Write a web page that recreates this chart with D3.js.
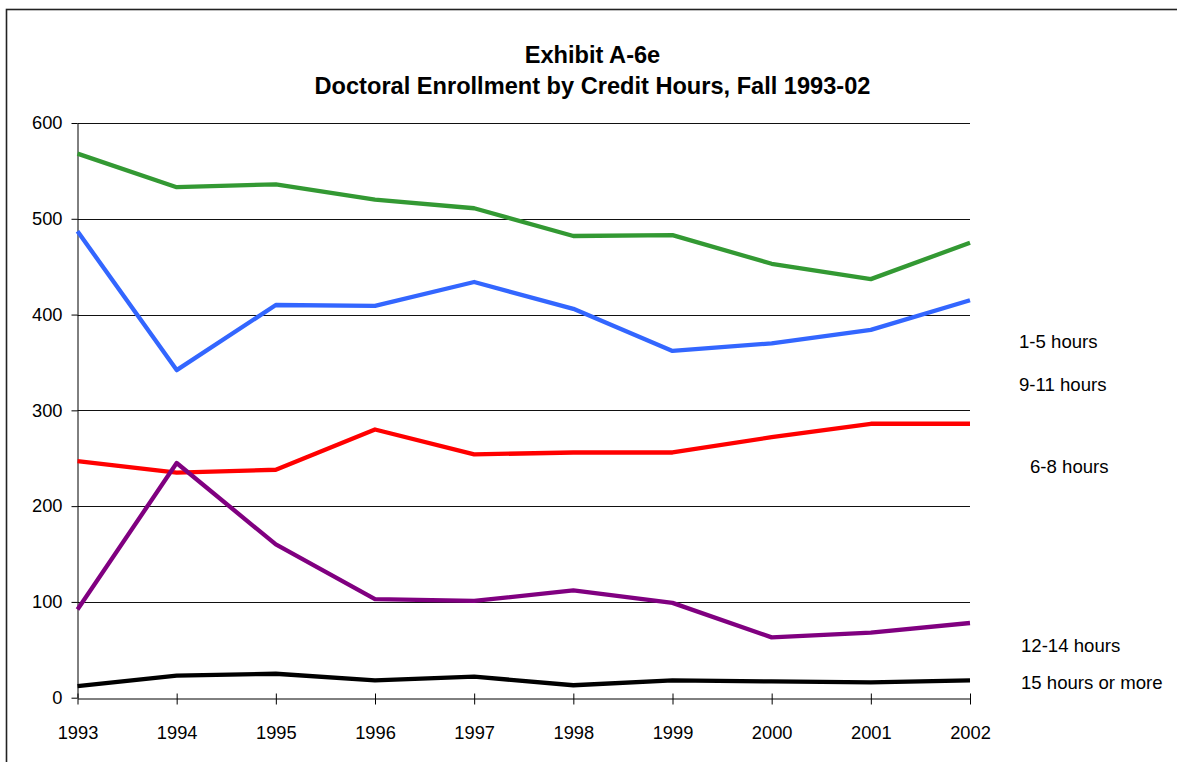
<!DOCTYPE html>
<html>
<head>
<meta charset="utf-8">
<script src="https://cdn.jsdelivr.net/npm/d3@7"></script>
<style>
    body { margin: 0; background: #ffffff; }
    text { font-family: "Liberation Sans", Arial, sans-serif; fill: #000000; }
</style>
</head>
<body>
<svg id="chart"></svg>
<script>
const years = [1993, 1994, 1995, 1996, 1997, 1998, 1999, 2000, 2001, 2002];
const y_ticks = [0, 100, 200, 300, 400, 500, 600];

const series_names = ["1-5 hours", "9-11 hours", "6-8 hours", "12-14 hours", "15 hours or more"];
const hours_1_5   = [568, 533, 536, 520, 511, 482, 483, 453, 437, 475];
const hours_9_11  = [487, 342, 410, 409, 434, 406, 362, 370, 384, 415];
const hours_6_8   = [247, 235, 238, 280, 254, 256, 256, 272, 286, 286];
const hours_12_14 = [92, 245, 160, 103, 101, 112, 99, 63, 68, 78];
const hours_15_up = [12, 23, 25, 18, 22, 13, 18, 17, 16, 18];

const series_values = [hours_1_5, hours_9_11, hours_6_8, hours_12_14, hours_15_up];
const series_colors = ["#339933", "#3366ff", "#ff0000", "#800080", "#000000"];

// where the labels sit on the right, they are not tied to the line ends
const label_x = [1019, 1019, 1030, 1021, 1021];
const label_y = [348, 391, 473, 652, 689];

function create_chart() {
    let width = 1177;
    let height = 762;

    let svg = d3.select("#chart")
        .attr("width", width)
        .attr("height", height);

    // frame, only top and left edges are visible
    svg.append("rect")
        .attr("x", 6.5)
        .attr("y", 9.5)
        .attr("width", width + 20)
        .attr("height", height + 20)
        .attr("fill", "none")
        .attr("stroke", "#222222")
        .attr("stroke-width", 1.6);

    let x = d3.scaleLinear()
        .domain([1993, 2002])
        .range([77.5, 970]);

    let y = d3.scaleLinear()
        .domain([0, 600])
        .range([697.7, 123]);

    // title
    let title = svg.append("text")
        .attr("text-anchor", "middle")
        .style("font-size", "23.6px")
        .style("font-weight", "bold");
    title.append("tspan").attr("x", 592.5).attr("y", 63).text("Exhibit A-6e");
    title.append("tspan").attr("x", 592.5).attr("y", 94).text("Doctoral Enrollment by Credit Hours, Fall 1993-02");

    // gridlines
    svg.append("g")
        .selectAll("line")
        .data(y_ticks.filter(function (d) { return d > 0; }))
        .enter().append("line")
        .attr("x1", x(1993))
        .attr("x2", x(2002))
        .attr("y1", function (d) { return Math.round(y(d)) + 0.5; })
        .attr("y2", function (d) { return Math.round(y(d)) + 0.5; })
        .attr("stroke", "#111111")
        .attr("stroke-width", 1);

    // y axis
    let y_axis = svg.append("g")
        .attr("transform", "translate(" + x(1993) + ",0)")
        .call(d3.axisLeft(y).tickValues(y_ticks).tickSize(6).tickPadding(9).tickSizeOuter(0));

    y_axis.select(".domain").attr("stroke", "#000000");
    y_axis.selectAll("text").style("font-size", "18.3px").attr("dy", "0.32em");

    // x axis, ticks cross the axis line
    let x_axis = svg.append("g")
        .attr("transform", "translate(0," + (Math.round(y(0)) + 0.5) + ")")
        .call(d3.axisBottom(x).tickValues(years).tickFormat(d3.format("d")).tickSize(6).tickPadding(22).tickSizeOuter(0));

    x_axis.select(".domain").attr("stroke", "#000000");
    x_axis.selectAll(".tick line").attr("y1", -5);
    x_axis.selectAll("text").style("font-size", "18.3px");

    // series lines
    let line = d3.line()
        .x(function (d, i) { return x(years[i]); })
        .y(function (d) { return y(d); });

    svg.append("g")
        .selectAll("path")
        .data(series_values)
        .enter().append("path")
        .attr("d", line)
        .attr("fill", "none")
        .attr("stroke", function (d, i) { return series_colors[i]; })
        .attr("stroke-width", 4.3)
        .attr("stroke-linejoin", "round");

    // labels
    svg.append("g")
        .selectAll("text")
        .data(series_names)
        .enter().append("text")
        .attr("x", function (d, i) { return label_x[i]; })
        .attr("y", function (d, i) { return label_y[i]; })
        .style("font-size", "18.6px")
        .text(function (d) { return d; });
}

create_chart();
</script>
</body>
</html>
